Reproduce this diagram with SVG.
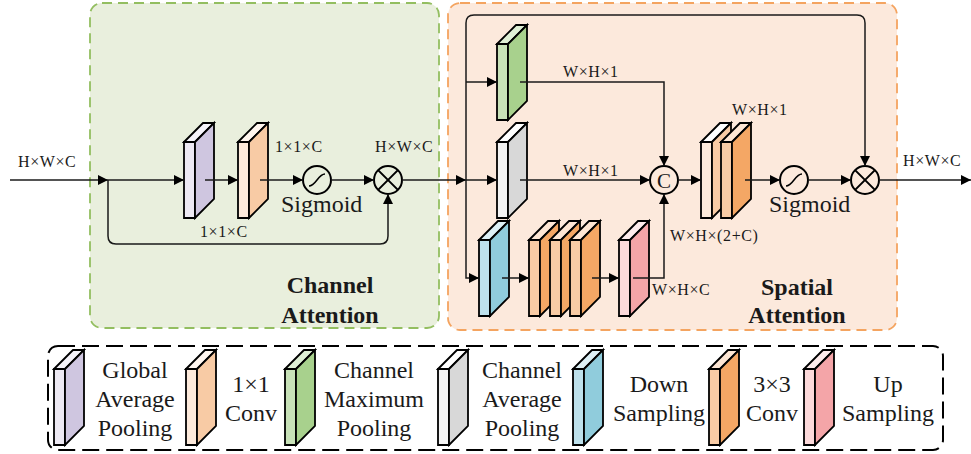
<svg xmlns="http://www.w3.org/2000/svg" xmlns:xlink="http://www.w3.org/1999/xlink" width="971" height="454" viewBox="0 0 971 454">
<style>
.t{font-family:"Liberation Serif","Times New Roman",serif;fill:#1a1a1a}
.dim{font-size:16px;letter-spacing:0.6px}
.big{font-size:24px}
.ttl{font-size:24px;font-weight:bold;text-anchor:middle}
.leg{font-size:24px;text-anchor:middle}
.blk use{stroke:#000;stroke-width:1.8;stroke-linejoin:miter}
.ln{fill:none;stroke:#1a1a1a;stroke-width:1.5}
.arr{marker-end:url(#ah)}
.op{fill:none;stroke:#000;stroke-width:2}
.pu-f{fill:#EDE9F3}.pu-s{fill:#CFC6E0}.pu-t{fill:#F6F4FA}
.or1-f{fill:#FDEADB}.or1-s{fill:#F8CBA5}.or1-t{fill:#FFF6EF}
.or2-f{fill:#F8CBA5}.or2-s{fill:#F4A765}.or2-t{fill:#FDE6D4}
.gr-f{fill:#C8E2B8}.gr-s{fill:#A8D18D}.gr-t{fill:#DFEFD5}
.gy-f{fill:#F3F3F3}.gy-s{fill:#D8D8D8}.gy-t{fill:#FFFFFF}
.bl-f{fill:#BEE1EC}.bl-s{fill:#90CCDC}.bl-t{fill:#DDF0F6}
.pk-f{fill:#FCD9DA}.pk-s{fill:#F4A5A8}.pk-t{fill:#FDECEC}
</style>
<defs>
<marker id="ah" markerUnits="userSpaceOnUse" markerWidth="12" markerHeight="12" refX="10" refY="5" orient="auto">
<path d="M0,0 L10,5 L0,10 Z" fill="#000"/>
</marker>
<path id="bf" d="M0,0 H11 V76 H0 Z"/>
<path id="bt" d="M0,0 L19,-19 H30 L11,0 Z"/>
<path id="bs" d="M11,0 L30,-19 V57 L11,76 Z"/>
<path id="sig" d="M-8,6 C-1,6 1,-6 8,-6" fill="none" stroke="#000" stroke-width="1.5"/>
</defs>

<rect width="971" height="454" fill="#fff"/>

<g id="channel-attention-panel">
<rect x="90" y="3" width="349" height="325" rx="12" fill="#E9EFDD" stroke="#93BE60" stroke-width="1.8" stroke-dasharray="10 6"/>
<text class="t ttl" x="330" y="293">Channel</text>
<text class="t ttl" x="330" y="323">Attention</text>
</g>
<g id="spatial-attention-panel">
<rect x="448" y="3" width="449" height="327" rx="12" fill="#FCE9DC" stroke="#F4A460" stroke-width="1.8" stroke-dasharray="10 6"/>
<text class="t ttl" x="797" y="295">Spatial</text>
<text class="t ttl" x="797" y="323">Attention</text>
</g>

<!-- Channel attention nodes -->
<g id="ca-gap" class="blk" transform="translate(184,142)"><use href="#bf" class="pu-f"/><use href="#bt" class="pu-t"/><use href="#bs" class="pu-s"/></g>
<g id="ca-conv" class="blk" transform="translate(238,142)"><use href="#bf" class="or1-f"/><use href="#bt" class="or1-t"/><use href="#bs" class="or1-s"/></g>
<g id="ca-sigmoid"><circle cx="317" cy="180" r="14" fill="none" stroke="#000" stroke-width="2"/><use href="#sig" x="317" y="180"/>
<text class="t big" x="281" y="212">Sigmoid</text></g>
<g id="ca-mult"><circle cx="388" cy="180" r="14" class="op"/><path d="M378.1,170.1 L397.9,189.9 M397.9,170.1 L378.1,189.9" class="op"/></g>

<!-- Spatial attention nodes -->
<g id="sa-cmp" class="blk" transform="translate(497,44)"><use href="#bf" class="gr-f"/><use href="#bt" class="gr-t"/><use href="#bs" class="gr-s"/></g>
<g id="sa-cap" class="blk" transform="translate(497,142)"><use href="#bf" class="gy-f"/><use href="#bt" class="gy-t"/><use href="#bs" class="gy-s"/></g>
<g id="sa-down" class="blk" transform="translate(479,240)"><use href="#bf" class="bl-f"/><use href="#bt" class="bl-t"/><use href="#bs" class="bl-s"/></g>
<g id="sa-conv3" class="blk">
<g transform="translate(529,240)"><use href="#bf" class="or2-f"/><use href="#bt" class="or2-t"/><use href="#bs" class="or2-s"/></g>
<g transform="translate(550,240)"><use href="#bf" class="or2-f"/><use href="#bt" class="or2-t"/><use href="#bs" class="or2-s"/></g>
<g transform="translate(570,240)"><use href="#bf" class="or2-f"/><use href="#bt" class="or2-t"/><use href="#bs" class="or2-s"/></g>
</g>
<g id="sa-up" class="blk" transform="translate(619,240)"><use href="#bf" class="pk-f"/><use href="#bt" class="pk-t"/><use href="#bs" class="pk-s"/></g>
<g id="sa-concat"><circle cx="664" cy="180" r="14" class="op"/><text class="t" x="664" y="187.5" font-size="21" text-anchor="middle">C</text></g>
<g id="sa-conv" class="blk">
<g transform="translate(701,142)"><use href="#bf" class="or1-f"/><use href="#bt" class="gy-t"/><use href="#bs" class="or1-s"/></g>
<g transform="translate(721,142)"><use href="#bf" class="or2-f"/><use href="#bt" class="or2-t"/><use href="#bs" class="or2-s"/></g>
</g>
<g id="sa-sigmoid"><circle cx="794" cy="180" r="14" fill="none" stroke="#000" stroke-width="2"/><use href="#sig" x="794" y="180"/>
<text class="t big" x="769" y="212">Sigmoid</text></g>
<g id="sa-mult"><circle cx="865" cy="180" r="14" class="op"/><path d="M855.1,170.1 L874.9,189.9 M874.9,170.1 L855.1,189.9" class="op"/></g>

<!-- Connectors -->
<g id="connectors">
<path class="ln arr" d="M10,180 H108"/>
<path class="ln arr" d="M108,180 H184"/>
<path class="ln arr" d="M205,180 H238"/>
<path class="ln arr" d="M260,180 H303"/>
<path class="ln arr" d="M331,180 H374"/>
<path class="ln arr" d="M108,180 V236 Q108,244 116,244 H380 Q388,244 388,236 V194"/>
<path class="ln arr" d="M402,180 H466"/>
<path class="ln arr" d="M466,180 V23 Q466,15 474,15 H857 Q865,15 865,23 V166"/>
<path class="ln arr" d="M466,82 H497"/>
<path class="ln arr" d="M466,180 H497"/>
<path class="ln arr" d="M466,180 V278 H479"/>
<path class="ln arr" d="M520,82 H664 V166"/>
<path class="ln arr" d="M520,180 H650"/>
<path class="ln arr" d="M502,278 H529"/>
<path class="ln arr" d="M592,278 H619"/>
<path class="ln arr" d="M633,278 H664 V194"/>
<path class="ln arr" d="M678,180 H701"/>
<path class="ln arr" d="M745,180 H780"/>
<path class="ln arr" d="M808,180 H851"/>
<path class="ln arr" d="M879,180 H971"/>
</g>

<!-- Labels -->
<g id="labels">
<text class="t dim" x="18" y="167">H×W×C</text>
<text class="t dim" x="275" y="152">1×1×C</text>
<text class="t dim" x="375" y="152">H×W×C</text>
<text class="t dim" x="200" y="237">1×1×C</text>
<text class="t dim" x="563" y="77">W×H×1</text>
<text class="t dim" x="563" y="176">W×H×1</text>
<text class="t dim" x="732" y="115">W×H×1</text>
<text class="t dim" x="670" y="241">W×H×(2+C)</text>
<text class="t dim" x="652" y="295">W×H×C</text>
<text class="t dim" x="903" y="166">H×W×C</text>
</g>

<!-- Legend -->
<g id="legend">
<rect x="48" y="346" width="895" height="104" rx="10" fill="none" stroke="#000" stroke-width="2" stroke-dasharray="17 7"/>
<g id="leg-gap" class="blk" transform="translate(54,369)"><use href="#bf" class="pu-f"/><use href="#bt" class="pu-t"/><use href="#bs" class="pu-s"/></g>
<text class="t leg" x="135" y="378">Global</text><text class="t leg" x="135" y="407">Average</text><text class="t leg" x="135" y="436">Pooling</text>
<g id="leg-conv1" class="blk" transform="translate(186,369)"><use href="#bf" class="or1-f"/><use href="#bt" class="or1-t"/><use href="#bs" class="or1-s"/></g>
<text class="t leg" x="251" y="392">1×1</text><text class="t leg" x="251" y="421">Conv</text>
<g id="leg-cmp" class="blk" transform="translate(285,369)"><use href="#bf" class="gr-f"/><use href="#bt" class="gr-t"/><use href="#bs" class="gr-s"/></g>
<text class="t leg" x="374" y="378">Channel</text><text class="t leg" x="374" y="407">Maximum</text><text class="t leg" x="374" y="436">Pooling</text>
<g id="leg-cap" class="blk" transform="translate(438,369)"><use href="#bf" class="gy-f"/><use href="#bt" class="gy-t"/><use href="#bs" class="gy-s"/></g>
<text class="t leg" x="522" y="378">Channel</text><text class="t leg" x="522" y="407">Average</text><text class="t leg" x="522" y="436">Pooling</text>
<g id="leg-down" class="blk" transform="translate(573,369)"><use href="#bf" class="bl-f"/><use href="#bt" class="bl-t"/><use href="#bs" class="bl-s"/></g>
<text class="t leg" x="659" y="392">Down</text><text class="t leg" x="659" y="421">Sampling</text>
<g id="leg-conv3" class="blk" transform="translate(709,369)"><use href="#bf" class="or2-f"/><use href="#bt" class="or2-t"/><use href="#bs" class="or2-s"/></g>
<text class="t leg" x="772" y="392">3×3</text><text class="t leg" x="772" y="421">Conv</text>
<g id="leg-up" class="blk" transform="translate(804,369)"><use href="#bf" class="pk-f"/><use href="#bt" class="pk-t"/><use href="#bs" class="pk-s"/></g>
<text class="t leg" x="888" y="392">Up</text><text class="t leg" x="888" y="421">Sampling</text>
</g>
</svg>
